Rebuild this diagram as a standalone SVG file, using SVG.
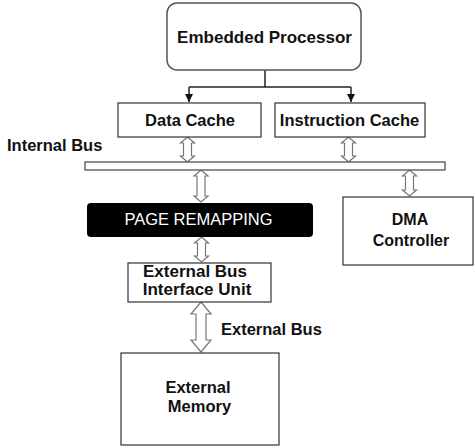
<svg xmlns="http://www.w3.org/2000/svg" width="474" height="448" viewBox="0 0 474 448">
  <style>
    .box { fill: #ffffff; stroke: #333333; stroke-width: 1.2; }
    .lbl { font-family: "Liberation Sans", Arial, sans-serif; font-weight: bold; fill: #111111; text-anchor: middle; }
    .free { font-family: "Liberation Sans", Arial, sans-serif; font-weight: bold; fill: #111111; }
    .link { fill: none; stroke: #222222; stroke-width: 1.5; }
    .dbl { fill: #ffffff; stroke: #777777; stroke-width: 1.2; stroke-linejoin: miter; }
  </style>
  <defs>
    <marker id="tip" viewBox="0 0 8 8" refX="8" refY="4" markerWidth="8" markerHeight="8" markerUnits="userSpaceOnUse" orient="auto">
      <path d="M0,0 L8,4 L0,8 Z" fill="#111111"/>
    </marker>
  </defs>

  <rect width="474" height="448" fill="#ffffff"/>

  <!-- connectors -->
  <g id="connectors">
    <path class="link" d="M265,70 V87"/>
    <path class="link" d="M189,87 H351"/>
    <path class="link" d="M189,87 V102" marker-end="url(#tip)"/>
    <path class="link" d="M351,87 V102" marker-end="url(#tip)"/>
    <!-- hollow bidirectional bus links -->
    <path class="dbl" d="M187.5,137 L194.5,143 L191.5,143 L191.5,156 L194.5,156 L187.5,162 L180.5,156 L183.5,156 L183.5,143 L180.5,143 Z"/>
    <path class="dbl" d="M348.5,137 L355.5,143 L352.5,143 L352.5,156 L355.5,156 L348.5,162 L341.5,156 L344.5,156 L344.5,143 L341.5,143 Z"/>
    <path class="dbl" d="M201,170 L208,176 L205,176 L205,196 L208,196 L201,202 L194,196 L197,196 L197,176 L194,176 Z"/>
    <path class="dbl" d="M409.5,170 L416.5,176 L413.5,176 L413.5,190 L416.5,190 L409.5,196 L402.5,190 L405.5,190 L405.5,176 L402.5,176 Z"/>
    <path class="dbl" d="M201.5,237 L208.5,243 L205.5,243 L205.5,256 L208.5,256 L201.5,262 L194.5,256 L197.5,256 L197.5,243 L194.5,243 Z"/>
    <path class="dbl" d="M201,302 L211,314 L206,314 L206,340 L211,340 L201,352 L191,340 L196,340 L196,314 L191,314 Z"/>
  </g>

  <g id="processor">
    <rect x="167" y="3" width="194" height="67" rx="10" ry="10" fill="#ffffff" stroke="#555555" stroke-width="1.5"/>
    <text class="lbl" x="264.5" y="43" font-size="17">Embedded Processor</text>
  </g>

  <g id="data-cache">
    <rect class="box" x="118" y="103" width="143" height="34"/>
    <text class="lbl" x="190" y="126" font-size="16.5">Data Cache</text>
  </g>

  <g id="instruction-cache">
    <rect class="box" x="275" y="103" width="150" height="34"/>
    <text class="lbl" x="349.5" y="126" font-size="16.5">Instruction Cache</text>
  </g>

  <g id="internal-bus">
    <rect x="85" y="162" width="360" height="8" fill="#ffffff" stroke="#444444" stroke-width="1.2"/>
    <text class="free" x="7" y="151" font-size="16.5">Internal Bus</text>
  </g>

  <g id="page-remapping">
    <rect x="87" y="203" width="226" height="34" rx="4" ry="4" fill="#000000"/>
    <text x="198.5" y="225" font-size="16.5" font-family="'Liberation Sans', Arial, sans-serif" fill="#ffffff" text-anchor="middle">PAGE REMAPPING</text>
  </g>

  <g id="dma-controller">
    <rect class="box" x="343" y="197" width="130" height="68"/>
    <text class="lbl" x="410" y="225" font-size="16">DMA</text>
    <text class="lbl" x="411" y="246" font-size="16">Controller</text>
  </g>

  <g id="bus-interface-unit">
    <rect class="box" x="128" y="263" width="143" height="39"/>
    <text class="lbl" x="195" y="277" font-size="17">External Bus</text>
    <text class="lbl" x="197" y="295" font-size="17">Interface Unit</text>
  </g>

  <g id="external-bus-label">
    <text class="free" x="221" y="335" font-size="16.5">External Bus</text>
  </g>

  <g id="external-memory">
    <rect class="box" x="121" y="353" width="158" height="92"/>
    <text class="lbl" x="198" y="393" font-size="16.5">External</text>
    <text class="lbl" x="199.5" y="412" font-size="16.5">Memory</text>
  </g>
</svg>
